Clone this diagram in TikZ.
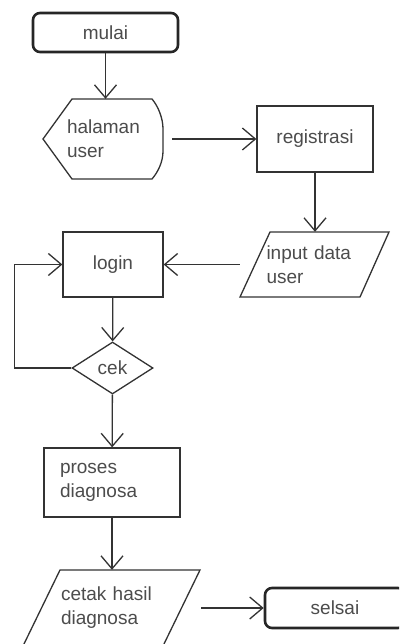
\documentclass[tikz,border=0pt]{standalone}
\usepackage{fontspec}
\setmainfont{Liberation Sans}
\usetikzlibrary{arrows.meta,shapes.geometric}

\tikzset{
  line/.style={draw=black!80, line width=1.3pt},
  arr/.style={line, -{Straight Barb[length=13pt,width=22pt]}},
  txt/.style={text=black!70, font=\fontsize{19}{24}\selectfont, align=left, inner sep=0pt},
  term/.style={txt, draw=black!85, line width=2.6pt, rounded corners=7pt},
  proc/.style={txt, line, rectangle},
  io/.style={txt, rectangle},
}

\begin{document}
\begin{tikzpicture}[x=1pt,y=-1pt]
\clip (0,0) rectangle (399,644);
\fill[white] (0,0) rectangle (399,644);
\node[term, minimum width=145pt, minimum height=39pt] (mulai) at (105.5,32.5) {mulai};
\node[io, text width=72pt, minimum width=120pt, minimum height=80pt] (halaman) at (103,139) {halaman\\user};
\draw[line] (43,139) -- (72,99) -- (152,99) .. controls (158,106) and (163,118) .. (163,129) -- (163,151) .. controls (163,162) and (158,172) .. (152,179) -- (72,179) -- cycle;
\node[proc, minimum width=116pt, minimum height=66pt] (registrasi) at (315,139) {registrasi};
\node[io, text width=96pt, minimum width=149pt, minimum height=65pt] (input) at (314.5,264.5) {input data\\user};
\draw[line] (270,232) -- (389,232) -- (360,297) -- (240,297) -- cycle;
\node[proc, minimum width=100pt, minimum height=65pt] (login) at (113,264.5) {login};
\node[txt, line, diamond, minimum width=81pt, minimum height=52pt] (cek) at (112.5,368) {cek};
\node[proc, text width=104pt, minimum width=136pt, minimum height=69pt] (proses) at (112,482.5) {proses\\diagnosa};
\node[io, text width=101pt, minimum width=179pt, minimum height=76pt] (cetak) at (111.5,608) {cetak hasil\\diagnosa};
\draw[line] (60,570) -- (200,570) -- (163,646) -- (23,646) -- cycle;
\node[term, minimum width=140pt, minimum height=40pt] (selsai) at (335,608) {selsai};

\draw[arr] (mulai) -- (mulai |- halaman.north);
\draw[arr] ([xshift=9pt]halaman.east) -- (registrasi.west);
\draw[arr] (registrasi) -- (registrasi |- input.north);
\draw[arr] (input) -- (login);
\draw[arr] (login) -- (cek);
\draw[arr] (cek.west) -- ++(-57,0) |- (login.west);
\draw[arr] (cek) -- (proses);
\draw[arr] (proses) -- (proses |- cetak.north);
\draw[arr] (cetak.east) -- (selsai.west);
\end{tikzpicture}
\end{document}
